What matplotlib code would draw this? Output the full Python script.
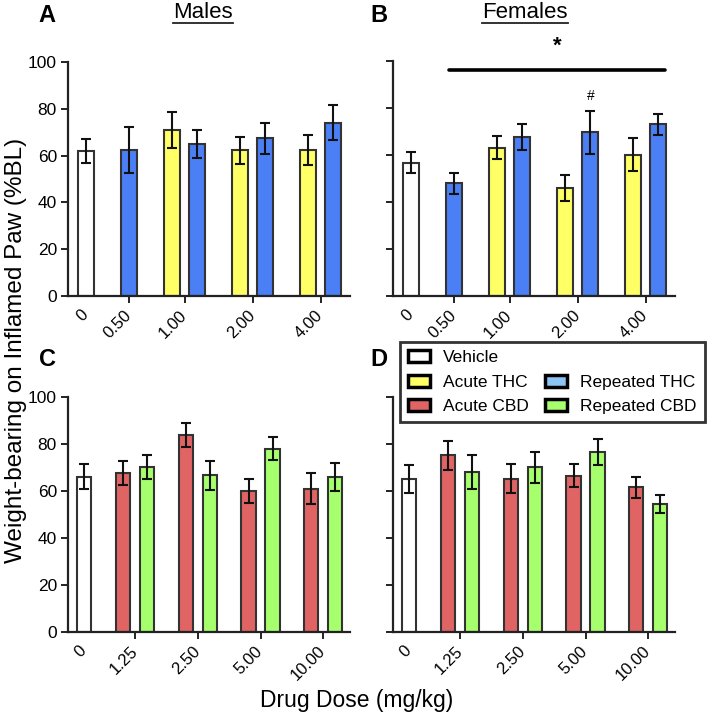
import matplotlib
matplotlib.use("Agg")
import matplotlib.pyplot as plt
from matplotlib.patches import Patch
import numpy as np

plt.rcParams['font.family'] = ['Liberation Sans', 'DejaVu Sans']

# ---------------- DATA ----------------
thc_doses = ["0", "0.50", "1.00", "2.00", "4.00"]
cbd_doses = ["0", "1.25", "2.50", "5.00", "10.00"]

# Males THC (panel A)
m_vehicle = 62.0; m_vehicle_sem = 5.3
m_acute_thc = [None, None, 70.9, 62.3, 62.3]
m_acute_thc_sem = [None, None, 7.8, 5.7, 6.3]
m_rep_thc = [None, 62.3, 65.0, 67.4, 74.1]
m_rep_thc_sem = [None, 9.8, 6.1, 6.7, 7.6]

# Females THC (panel B)
f_vehicle = 56.8; f_vehicle_sem = 4.3
f_acute_thc = [None, None, 63.1, 46.0, 60.1]
f_acute_thc_sem = [None, None, 4.8, 5.5, 7.0]
f_rep_thc = [None, 47.9, 67.8, 69.6, 73.0]
f_rep_thc_sem = [None, 4.3, 5.5, 9.0, 4.6]

# Males CBD (panel C)
mc_vehicle = 66.0; mc_vehicle_sem = 5.3
m_acute_cbd = [None, 67.7, 83.7, 60.0, 61.0]
m_acute_cbd_sem = [None, 5.0, 5.1, 5.3, 6.6]
m_rep_cbd = [None, 70.2, 66.7, 78.0, 66.0]
m_rep_cbd_sem = [None, 5.0, 6.2, 5.0, 6.1]

# Females CBD (panel D)
fc_vehicle = 65.1; fc_vehicle_sem = 6.0
f_acute_cbd = [None, 75.2, 65.2, 66.5, 61.6]
f_acute_cbd_sem = [None, 6.2, 6.2, 5.0, 4.5]
f_rep_cbd = [None, 68.2, 70.2, 76.6, 54.6]
f_rep_cbd_sem = [None, 7.2, 6.6, 5.6, 3.9]

legend_labels = ["Vehicle", "Acute THC", "Acute CBD", "Repeated THC", "Repeated CBD"]

# ---------------- STYLE / LAYOUT ----------------
C_WHITE = "#FFFFFF"
C_YELLOW = "#FFFF66"
C_BLUE = "#4A7FF5"
C_RED = "#E06464"
C_GREEN = "#A6FF6C"
C_LBLUE = "#8CC4F5"
EDGE = "#333333"

W, H = 714, 717
fig = plt.figure(figsize=(W / 100, H / 100), dpi=100)

def add_ax(left, top, right, bottom):
    return fig.add_axes([left / W, 1 - bottom / H, (right - left) / W, (bottom - top) / H])

axA = add_ax(68, 62, 350, 296)
axB = add_ax(393, 61, 675, 296)
axC = add_ax(68, 397, 350, 632)
axD = add_ax(393, 397, 675, 632)

pos_thc = [18, 61, 116.5, 184.5, 252.5]
pos_cbd = [16, 67, 130, 192.5, 255]
off_thc = 12.5
off_cbd = 12
bw_thc = 15.5
bw_cbd = 14.5

def style_ax(ax, labels, pos, show_ylabels):
    ax.set_xlim(0, 282)
    ax.set_ylim(0, 100)
    for s in ["top", "right"]:
        ax.spines[s].set_visible(False)
    for s in ["left", "bottom"]:
        ax.spines[s].set_linewidth(1.6)
        ax.spines[s].set_color("#222222")
    ax.set_yticks([0, 20, 40, 60, 80, 100])
    if show_ylabels:
        ax.set_yticklabels(["0", "20", "40", "60", "80", "100"], fontsize=12.5)
    else:
        ax.set_yticklabels([])
    ax.set_xticks(pos)
    ax.set_xticklabels(labels, rotation=45, ha="right", va="center",
                       rotation_mode="anchor", fontsize=12)
    ax.tick_params(axis="both", width=1.4, length=5, color="#222222", pad=3)
    ax.tick_params(axis="x", pad=7)
    ax.xaxis.get_major_ticks()[0].tick1line.set_visible(False)

def bar(ax, x, v, e, color, bw):
    ax.bar(x, v, width=bw, color=color, edgecolor=EDGE, linewidth=1.5, zorder=2)
    ax.errorbar(x, v, yerr=e, fmt="none", ecolor="#111111", elinewidth=1.5,
                capsize=3.3, capthick=1.5, zorder=3)

def draw_panel(ax, pos, off, bw, veh, veh_e, s1, s1e, c1, s2, s2e, c2):
    bar(ax, pos[0], veh, veh_e, C_WHITE, bw)
    for i in range(1, len(pos)):
        has1 = s1[i] is not None
        has2 = s2[i] is not None
        if has1 and has2:
            bar(ax, pos[i] - off, s1[i], s1e[i], c1, bw)
            bar(ax, pos[i] + off, s2[i], s2e[i], c2, bw)
        elif has1:
            bar(ax, pos[i], s1[i], s1e[i], c1, bw)
        elif has2:
            bar(ax, pos[i], s2[i], s2e[i], c2, bw)

draw_panel(axA, pos_thc, off_thc, bw_thc, m_vehicle, m_vehicle_sem,
           m_acute_thc, m_acute_thc_sem, C_YELLOW, m_rep_thc, m_rep_thc_sem, C_BLUE)
draw_panel(axB, pos_thc, off_thc, bw_thc, f_vehicle, f_vehicle_sem,
           f_acute_thc, f_acute_thc_sem, C_YELLOW, f_rep_thc, f_rep_thc_sem, C_BLUE)
draw_panel(axC, pos_cbd, off_cbd, bw_cbd, mc_vehicle, mc_vehicle_sem,
           m_acute_cbd, m_acute_cbd_sem, C_RED, m_rep_cbd, m_rep_cbd_sem, C_GREEN)
draw_panel(axD, pos_cbd, off_cbd, bw_cbd, fc_vehicle, fc_vehicle_sem,
           f_acute_cbd, f_acute_cbd_sem, C_RED, f_rep_cbd, f_rep_cbd_sem, C_GREEN)

style_ax(axA, thc_doses, pos_thc, True)
style_ax(axB, thc_doses, pos_thc, False)
style_ax(axC, cbd_doses, pos_cbd, True)
style_ax(axD, cbd_doses, pos_cbd, False)

# significance annotations in panel B
axB.plot([56, 272], [96.2, 96.2], color="black", linewidth=2.6, solid_capstyle="round",
         clip_on=False, zorder=4)
axB.text(164, 106.5, "*", ha="center", va="center", fontsize=16, fontweight="bold",
         clip_on=False)
axB.text(198, 85.2, "#", ha="center", va="center", fontsize=10, clip_on=False)

# Panel letters and titles
def ftext(x, y, s, **kw):
    fig.text(x / W, 1 - y / H, s, **kw)

ftext(47, 15, "A", fontsize=17, fontweight="bold", ha="center", va="center")
ftext(379, 15, "B", fontsize=17, fontweight="bold", ha="center", va="center")
ftext(47, 360, "C", fontsize=17, fontweight="bold", ha="center", va="center")
ftext(379, 360, "D", fontsize=17, fontweight="bold", ha="center", va="center")

def underlined_title(x, y, s):
    t = fig.text(x / W, 1 - y / H, s, fontsize=16, ha="center", va="center")
    fig.canvas.draw()
    bb = t.get_window_extent()
    yl = bb.y0 + 1
    fig.add_artist(plt.Line2D([bb.x0 / W, bb.x1 / W], [yl / H, yl / H],
                              transform=fig.transFigure, color="#222222", linewidth=1.3))

underlined_title(203, 13, "Males")
underlined_title(525, 13, "Females")

# axis labels
ftext(16, 350, "Weight-bearing on Inflamed Paw (%BL)", fontsize=17.5, rotation=90,
      ha="center", va="center")
ftext(357, 700, "Drug Dose (mg/kg)", fontsize=16.5, ha="center", va="center")

# Legend
handles = [
    Patch(facecolor=C_WHITE, edgecolor="black", linewidth=2.5),
    Patch(facecolor=C_YELLOW, edgecolor="black", linewidth=2.5),
    Patch(facecolor=C_RED, edgecolor="black", linewidth=2.5),
    Patch(facecolor="none", edgecolor="none"),
    Patch(facecolor=C_LBLUE, edgecolor="black", linewidth=2.5),
    Patch(facecolor=C_GREEN, edgecolor="black", linewidth=2.5),
]
labels = [legend_labels[0], legend_labels[1], legend_labels[2], "",
          legend_labels[3], legend_labels[4]]
leg = fig.legend(handles, labels, ncol=2, loc="upper left",
                 bbox_to_anchor=(400 / W, 1 - 342 / H), fontsize=12.5,
                 frameon=True, fancybox=False, edgecolor="black",
                 handlelength=1.3, handleheight=0.7, handletextpad=0.75,
                 columnspacing=0.9, labelspacing=0.55, borderpad=0.45,
                 borderaxespad=0)
leg.get_frame().set_linewidth(2.0)

fig.savefig("out.png", dpi=100, facecolor="white")
